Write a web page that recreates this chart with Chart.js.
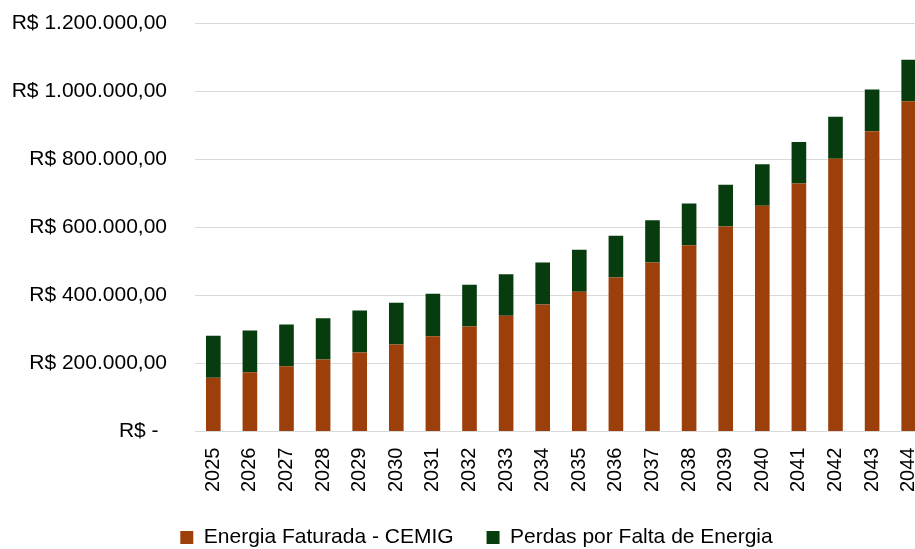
<!DOCTYPE html>
<html>
<head>
<meta charset="utf-8">
<script src="https://cdn.jsdelivr.net/npm/chart.js@4/dist/chart.umd.min.js"></script>
<style>
  html, body { margin: 0; padding: 0; background: #fff; overflow: hidden; width: 915px; height: 549px; }
  #wrap { width: 953px; height: 549px; position: relative; }
</style>
</head>
<body>
<div id="wrap"><canvas id="c" width="953" height="549"></canvas></div>
<script>
const years = ['2025','2026','2027','2028','2029','2030','2031','2032','2033','2034','2035','2036','2037','2038','2039','2040','2041','2042','2043','2044'];
const energiaFaturada = [157700,174200,191800,211500,232000,255500,280000,308400,339800,373000,410300,452300,496400,547200,602100,662900,728400,800900,882000,970100];
const perdasFaltaEnergia = [123300,122400,122500,121300,123400,122500,124400,122400,122200,123400,123300,122400,124200,122400,122400,122200,122400,123400,122500,121600];
const seriesNames = ['Energia Faturada - CEMIG', 'Perdas por Falta de Energia'];
const yTicks = [0,200000,400000,600000,800000,1000000,1200000];

function brl(v) {
  if (v === 0) return 'R$ -\u2009\u2009';
  const s = Math.round(v).toString().replace(/\B(?=(\d{3})+(?!\d))/g, '.');
  return 'R$ ' + s + ',00';
}

const FONT = "'Liberation Sans', Arial, sans-serif";

// shift the legend so it is centred like the original (which was wider than the visible crop)
const legendShift = {
  id: 'legendShift',
  beforeDraw(chart) {
    if (chart.legend && !chart.legend._shifted) {
      chart.legend.left += 13;
      chart.legend.right += 13;
      chart.legend._shifted = true;
    }
  }
};

new Chart(document.getElementById('c'), {
  type: 'bar',
  data: {
    labels: years,
    datasets: [
      { label: seriesNames[0], data: energiaFaturada, backgroundColor: '#9C3F0A', borderWidth: 0, barPercentage: 0.4, categoryPercentage: 1.0 },
      { label: seriesNames[1], data: perdasFaltaEnergia, backgroundColor: '#073D0E', borderWidth: 0, barPercentage: 0.4, categoryPercentage: 1.0 }
    ]
  },
  plugins: [legendShift],
  options: {
    responsive: false,
    animation: false,
    devicePixelRatio: 1,
    layout: { padding: { top: 23, right: 26, left: 0, bottom: -9 } },
    plugins: {
      tooltip: { enabled: false },
      legend: {
        position: 'bottom',
        labels: {
          font: { family: FONT, size: 21 },
          color: '#000',
          boxWidth: 13,
          boxHeight: 13,
          padding: 33
        }
      }
    },
    scales: {
      x: {
        stacked: true,
        grid: { display: false, drawTicks: false },
        border: { display: true, color: '#d9d9d9', width: 1 },
        afterFit: (axis) => { axis.height = axis.height - 14; },
        ticks: {
          font: { family: FONT, size: 20 },
          color: '#000',
          maxRotation: 90,
          minRotation: 90,
          padding: 16,
          autoSkip: false
        }
      },
      y: {
        stacked: true,
        min: 0,
        max: 1200000,
        afterBuildTicks: (axis) => { axis.ticks = yTicks.map(v => ({ value: v })); },
        afterFit: (axis) => { axis.width = 195; },
        grid: { color: '#d9d9d9', lineWidth: 1, drawTicks: true, tickLength: 28, tickColor: 'rgba(0,0,0,0)' },
        border: { display: false },
        ticks: {
          font: { family: FONT, size: 21 },
          color: '#000',
          padding: 0,
          callback: (v) => brl(v)
        }
      }
    }
  }
});
</script>
</body>
</html>
